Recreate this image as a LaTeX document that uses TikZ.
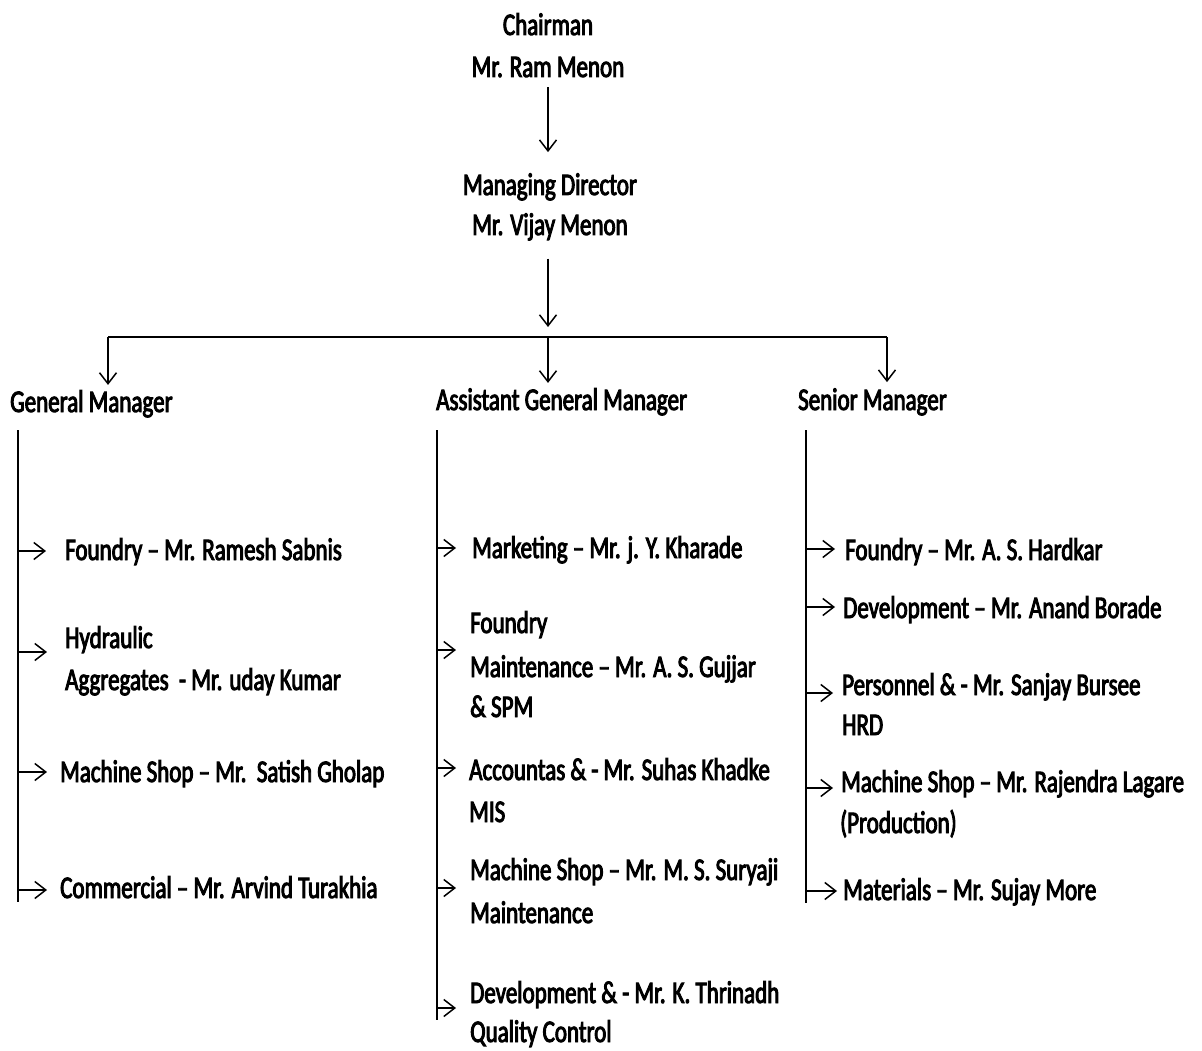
\documentclass[tikz,border=0pt]{standalone}
\usepackage{fontspec}
\setmainfont{Carlito}[FakeStretch=0.73,FakeBold=3]
\usetikzlibrary{arrows.meta}
\newcommand\orgfont{\fontsize{31.5}{41}\selectfont}
\begin{document}
\begin{tikzpicture}[x=1pt,y=-1pt,
  txt/.style={inner sep=0pt,font=\orgfont,anchor=base west},
  ctxt/.style={inner sep=0pt,font=\orgfont,anchor=base},
  arr/.style={-{Straight Barb[length=11pt,width=17pt,line width=1.5pt]},line width=1.4pt},
  vline/.style={line width=1.7pt},
  bus/.style={line width=2.3pt}]
\useasboundingbox (0,0) rectangle (1202,1051);
% top
\node[ctxt] (ch1) at (548,35) {Chairman};
\node[ctxt] (ch2) at (548,77) {Mr. Ram Menon};
\node[ctxt] (md1) at (550,195) {Managing Director};
\node[ctxt] (md2) at (550,235) {Mr. Vijay Menon};
\coordinate (busL) at (108,337);
\coordinate (busM) at (548,337);
\coordinate (busR) at (887,337);
\draw[arr,shorten <=10pt,shorten >=21pt] (ch2.south -| busM) -- (md1.north -| busM);
\draw[arr,shorten <=18pt,shorten >=10pt] (md2.south -| busM) -- (busM);
\draw[bus] (busL) -- (busR);
% level 2
\node[txt] (gm) at (10,412) {General Manager};
\node[txt] (agm) at (436,410) {Assistant General Manager};
\node[txt] (sm) at (798,410) {Senior Manager};
\draw[arr,shorten >=5pt] (busL) -- (gm.north -| busL);
\draw[arr,shorten >=5pt] (busM) -- (agm.north -| busM);
\draw[arr,shorten >=6pt] (busR) -- (sm.north -| busR);
% vertical lines
\coordinate (lvT) at (18,430);  \coordinate (lvB) at (18,902);
\coordinate (mvT) at (437,430); \coordinate (mvB) at (437,1020);
\coordinate (rvT) at (806,430); \coordinate (rvB) at (806,903);
\draw[vline] (lvT) -- (lvB);
\draw[vline] (mvT) -- (mvB);
\draw[vline] (rvT) -- (rvB);
% left column
\node[txt] (l1) at (65,560) {Foundry – Mr. Ramesh Sabnis};
\node[txt] (l2a) at (65,648) {Hydraulic};
\node[txt] (l2b) at (65,690) {Aggregates\ \ - Mr. uday Kumar};
\node[txt] (l3) at (60,782) {Machine Shop – Mr.\ \ Satish Gholap};
\node[txt] (l4) at (60,898) {Commercial – Mr. Arvind Turakhia};
\coordinate (la1) at (18,551);
\coordinate (la2) at (18,652);
\coordinate (la3) at (18,772);
\coordinate (la4) at (18,890);
\draw[arr,shorten >=19pt] (la1) -- (l1.west |- la1);
\draw[arr,shorten >=18pt] (la2) -- (l2a.west |- la2);
\draw[arr,shorten >=13pt] (la3) -- (l3.west |- la3);
\draw[arr,shorten >=13pt] (la4) -- (l4.west |- la4);
% middle column
\node[txt] (m1) at (472,558) {Marketing – Mr. j. Y. Kharade};
\node[txt] (m2a) at (470,633) {Foundry};
\node[txt] (m2b) at (470,677) {Maintenance – Mr. A. S. Gujjar};
\node[txt] (m2c) at (470,717) {\& SPM};
\node[txt] (m3a) at (469,780) {Accountas \& - Mr. Suhas Khadke};
\node[txt] (m3b) at (469,822) {MIS};
\node[txt] (m4a) at (470,880) {Machine Shop – Mr. M. S. Suryaji};
\node[txt] (m4b) at (470,923) {Maintenance};
\node[txt] (m5a) at (470,1003) {Development \& - Mr. K. Thrinadh};
\node[txt] (m5b) at (470,1042) {Quality Control};
\coordinate (ma1) at (437,548);
\coordinate (ma2) at (437,650);
\coordinate (ma3) at (437,768);
\coordinate (ma4) at (437,888);
\coordinate (ma5) at (437,1008);
\draw[arr,shorten >=16pt] (ma1) -- (m1.west |- ma1);
\draw[arr,shorten >=14pt] (ma2) -- (m2a.west |- ma2);
\draw[arr,shorten >=13pt] (ma3) -- (m3a.west |- ma3);
\draw[arr,shorten >=14pt] (ma4) -- (m4a.west |- ma4);
\draw[arr,shorten >=14pt] (ma5) -- (m5a.west |- ma5);
% right column
\node[txt] (r1) at (845,560) {Foundry – Mr. A. S. Hardkar};
\node[txt] (r2) at (843,618) {Development – Mr. Anand Borade};
\node[txt] (r3a) at (842,695) {Personnel \& - Mr. Sanjay Bursee};
\node[txt] (r3b) at (842,735) {HRD};
\node[txt] (r4a) at (841,792) {Machine Shop – Mr. Rajendra Lagare};
\node[txt] (r4b) at (840,833) {(Production)};
\node[txt] (r5) at (843,900) {Materials – Mr. Sujay More};
\coordinate (ra1) at (806,549);
\coordinate (ra2) at (806,607);
\coordinate (ra3) at (806,693);
\coordinate (ra4) at (806,788);
\coordinate (ra5) at (806,891);
\draw[arr,shorten >=10pt] (ra1) -- (r1.west |- ra1);
\draw[arr,shorten >=8pt] (ra2) -- (r2.west |- ra2);
\draw[arr,shorten >=9pt] (ra3) -- (r3a.west |- ra3);
\draw[arr,shorten >=8pt] (ra4) -- (r4a.west |- ra4);
\draw[arr,shorten >=6pt] (ra5) -- (r5.west |- ra5);
\end{tikzpicture}
\end{document}
